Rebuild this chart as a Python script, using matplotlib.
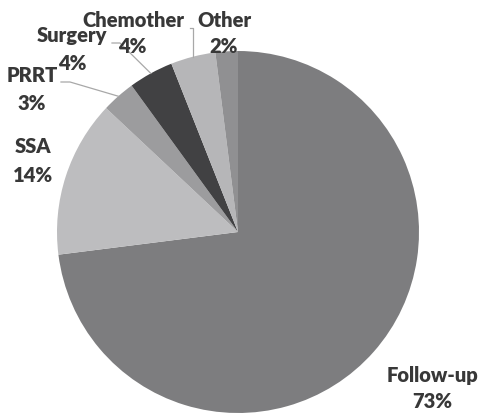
import numpy as np
import matplotlib.pyplot as plt

# treatment share (%), listed clockwise from 12 o'clock
labels = ['Follow-up', 'SSA', 'PRRT', 'Surgery', 'Chemother', 'Other']
shares = [73, 14, 3, 4, 4, 2]
colors = ['#7d7d7f', '#bdbdbf', '#9c9c9e', '#414143', '#b6b6b8', '#909092']

H = 413  # figure height in px, y below is measured from the top
fig = plt.figure(figsize=(4.8, 4.13), dpi=100)
ax = fig.add_axes([0, 0, 1, 1])

cx, cy, r = 238, H - 232, 181
wedges, _ = ax.pie(shares, colors=colors, startangle=90, counterclock=False,
                   center=(cx, cy), radius=r, frame=True,
                   wedgeprops=dict(linewidth=0))
ax.set_xlim(0, 480)
ax.set_ylim(0, H)
ax.axis('off')

txt = dict(fontsize=14.5, fontweight='heavy', family=['Lato', 'DejaVu Sans'],
           color='#383838', ha='center', va='baseline')

# label x centre, baseline of name, baseline of percent (px from top-left)
pos = {
    'Follow-up': (432, 382, 408),
    'SSA': (33, 153, 182),
    'PRRT': (32, 82, 110),
    'Surgery': (72, 42, 70),
    'Chemother': (133, 27, 53),
    'Other': (224, 27, 53),
}
pct_x = {'Chemother': 132}
for lab, val in zip(labels, shares):
    x, y1, y2 = pos[lab]
    ax.text(x, H - y1, lab, **txt)
    ax.text(pct_x.get(lab, x), H - y2, f'{val}%', **txt)


def tip(i):
    w = wedges[i]
    a = np.deg2rad((w.theta1 + w.theta2) / 2)
    return cx + r * np.cos(a), cy + r * np.sin(a)


# leader lines: start at label, short horizontal run, then to the wedge edge
lc = dict(color='#a8a8a8', linewidth=0.9)
tx, ty = tip(4)
ax.plot([190, tx, tx], [H - 28, H - 28, ty], **lc)
tx, ty = tip(3)
ax.plot([112, 120, tx], [H - 43, H - 43, ty], **lc)
tx, ty = tip(2)
ax.plot([61, 70, tx], [H - 82, H - 82, ty], **lc)

plt.savefig('out.png', dpi=100)
